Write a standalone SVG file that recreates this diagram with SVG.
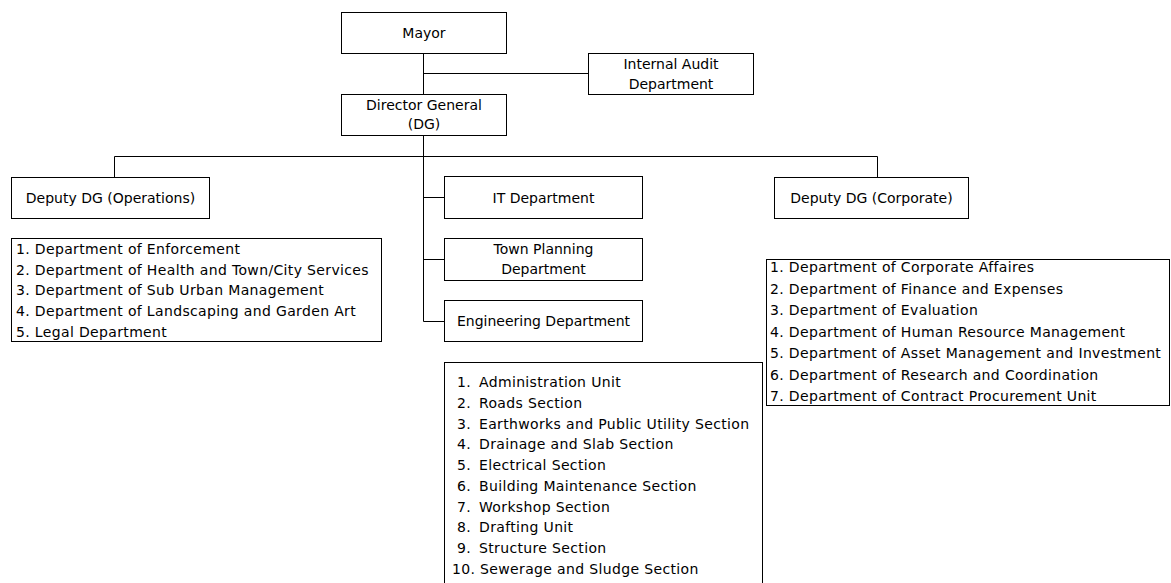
<svg xmlns="http://www.w3.org/2000/svg" width="1171" height="583" viewBox="0 0 1171 583">
  <style>
    .box { fill: #fff; stroke: #000; stroke-width: 1; }
    .wire { stroke: #000; stroke-width: 1; fill: none; }
    text { font-family: "DejaVu Sans", "Liberation Sans", sans-serif; font-size: 14px; fill: #000; }
    .c { text-anchor: middle; }
    .list text { letter-spacing: 0.35px; }
  </style>
  <rect width="1171" height="583" fill="#fff"/>

  <!-- reporting lines -->
  <g id="connectors">
    <path class="wire" d="M423.5 53.5 V94.5"/>
    <path class="wire" d="M423.5 73.5 H588.5"/>
    <path class="wire" d="M423.5 135.5 V321.5 H444.5"/>
    <path class="wire" d="M114.5 177.5 V156.5 H877.5 V177.5"/>
    <path class="wire" d="M423.5 197.5 H444.5"/>
    <path class="wire" d="M423.5 259.5 H444.5"/>
  </g>

  <g id="mayor">
    <rect class="box" x="341.5" y="12.5" width="165" height="41"/>
    <text class="c" x="424" y="38">Mayor</text>
  </g>

  <g id="internal-audit">
    <rect class="box" x="588.5" y="53.5" width="165" height="41"/>
    <text class="c" x="671" y="69">Internal Audit</text>
    <text class="c" x="671" y="89">Department</text>
  </g>

  <g id="director-general">
    <rect class="box" x="341.5" y="94.5" width="165" height="41"/>
    <text class="c" x="424" y="110">Director General</text>
    <text class="c" x="424" y="129">(DG)</text>
  </g>

  <g id="deputy-operations">
    <rect class="box" x="11.5" y="177.5" width="198" height="41"/>
    <text class="c" x="110.5" y="203">Deputy DG (Operations)</text>
  </g>

  <g id="operations-departments" class="list">
    <rect class="box" x="11.5" y="238.5" width="370" height="103"/>
    <text x="16" y="254">1. Department of Enforcement</text>
    <text x="16" y="274.7">2. Department of Health and Town/City Services</text>
    <text x="16" y="295.4">3. Department of Sub Urban Management</text>
    <text x="16" y="316.1">4. Department of Landscaping and Garden Art</text>
    <text x="16" y="336.8">5. Legal Department</text>
  </g>

  <g id="it-department">
    <rect class="box" x="444.5" y="176.5" width="198" height="42"/>
    <text class="c" x="543.5" y="203">IT Department</text>
  </g>

  <g id="town-planning">
    <rect class="box" x="444.5" y="238.5" width="198" height="42"/>
    <text class="c" x="543.5" y="254">Town Planning</text>
    <text class="c" x="543.5" y="274">Department</text>
  </g>

  <g id="engineering">
    <rect class="box" x="444.5" y="300.5" width="198" height="41"/>
    <text class="c" x="543.5" y="326">Engineering Department</text>
  </g>

  <g id="engineering-sections" class="list">
    <rect class="box" x="444.5" y="362.5" width="318" height="230"/>
    <text x="457" y="387.3">1.</text><text x="479" y="387.3">Administration Unit</text>
    <text x="457" y="408">2.</text><text x="479" y="408">Roads Section</text>
    <text x="457" y="428.7">3.</text><text x="479" y="428.7">Earthworks and Public Utility Section</text>
    <text x="457" y="449.4">4.</text><text x="479" y="449.4">Drainage and Slab Section</text>
    <text x="457" y="470.1">5.</text><text x="479" y="470.1">Electrical Section</text>
    <text x="457" y="490.8">6.</text><text x="479" y="490.8">Building Maintenance Section</text>
    <text x="457" y="511.5">7.</text><text x="479" y="511.5">Workshop Section</text>
    <text x="457" y="532.2">8.</text><text x="479" y="532.2">Drafting Unit</text>
    <text x="457" y="552.9">9.</text><text x="479" y="552.9">Structure Section</text>
    <text x="452" y="573.6">10. Sewerage and Sludge Section</text>
  </g>

  <g id="deputy-corporate">
    <rect class="box" x="774.5" y="177.5" width="194" height="41"/>
    <text class="c" x="871.5" y="203">Deputy DG (Corporate)</text>
  </g>

  <g id="corporate-departments" class="list">
    <rect class="box" x="766.5" y="259.5" width="403" height="146"/>
    <text x="770" y="272">1. Department of Corporate Affaires</text>
    <text x="770" y="293.5">2. Department of Finance and Expenses</text>
    <text x="770" y="315">3. Department of Evaluation</text>
    <text x="770" y="336.5">4. Department of Human Resource Management</text>
    <text x="770" y="358">5. Department of Asset Management and Investment</text>
    <text x="770" y="379.5">6. Department of Research and Coordination</text>
    <text x="770" y="401">7. Department of Contract Procurement Unit</text>
  </g>
</svg>
